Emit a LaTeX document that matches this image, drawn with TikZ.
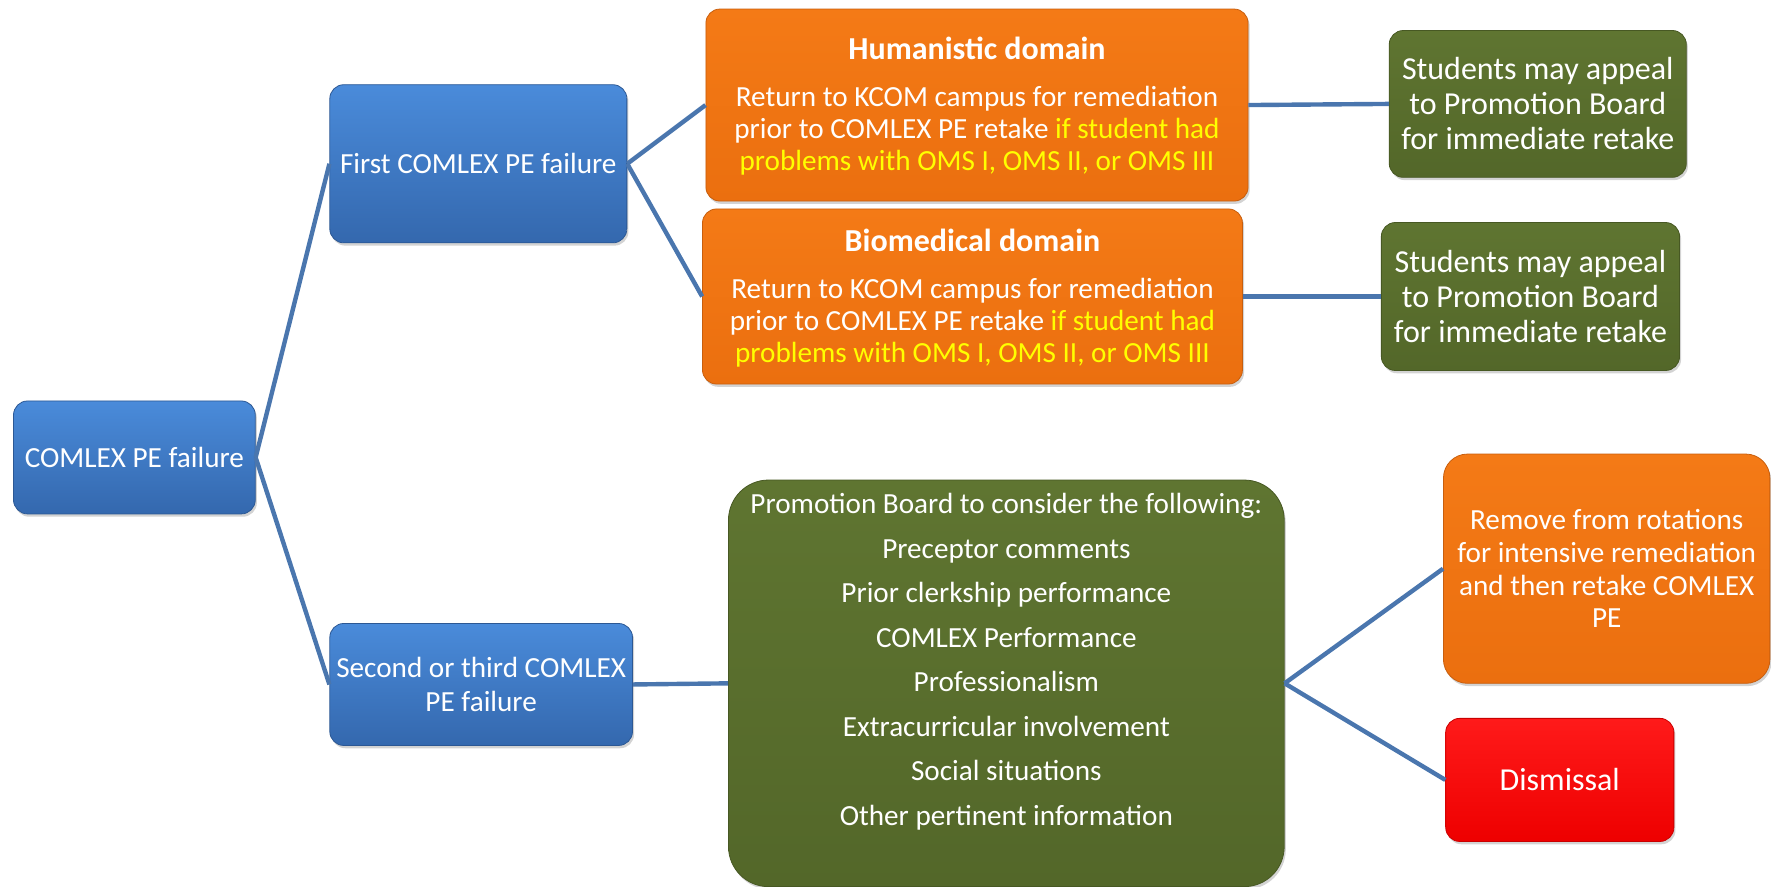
\documentclass[tikz,border=0pt]{standalone}
\usepackage{fontspec}
\setmainfont{Carlito}
\usetikzlibrary{fit,shadows}
\definecolor{bluetop}{HTML}{4A8BDA}
\definecolor{bluebot}{HTML}{3468AE}
\definecolor{orgtop}{HTML}{F47A16}
\definecolor{orgbot}{HTML}{EB6F0F}
\definecolor{grntop}{HTML}{5F7531}
\definecolor{grnbot}{HTML}{536729}
\definecolor{redtop}{HTML}{FF1A1A}
\definecolor{redbot}{HTML}{EE0000}
\definecolor{linkc}{HTML}{4A76AE}
\definecolor{hl}{HTML}{FFFF00}
\begin{document}
\begin{tikzpicture}[x=0.56475pt,y=-0.56475pt,
  box/.style={inner sep=0pt, rounded corners=7pt,
    drop shadow={opacity=0.35,shadow xshift=0.8pt,shadow yshift=-1.4pt}},
  bluebox/.style={box, top color=bluetop, bottom color=bluebot, draw=bluebot!85!black, line width=0.4pt},
  orangebox/.style={box, top color=orgtop, bottom color=orgbot, draw=orgbot!85!black, line width=0.4pt},
  greenbox/.style={box, top color=grntop, bottom color=grnbot, draw=grnbot!85!black, line width=0.4pt},
  redbox/.style={box, top color=redtop, bottom color=redbot, draw=redbot!85!black, line width=0.4pt},
  txt/.style={text=white, align=center, inner sep=0pt, font=\fontsize{14.6}{17}\selectfont},
  link/.style={draw=linkc, line width=2.2pt}]
\useasboundingbox (0,0) rectangle (1568,785.3);

% left column
\node[bluebox, fit={(12,355) (226,455)}] (a) {};
\node[txt] (at) at (a.center) {COMLEX PE failure};
\node[bluebox, fit={(292,75) (555,215)}] (b1) {};
\node[txt] (b1t) at (b1.center) {First COMLEX PE failure};
\node[bluebox, fit={(292,552) (560,660)}] (b2) {};
\node[txt] (b2t) at (b2.center) {Second or third COMLEX\\PE failure};

% orange domain boxes
\node[orangebox, fit={(625,8) (1105,178)}] (h) {};
\node[txt, font=\fontsize{14.6}{16.1}\selectfont] (ht) at (865,94)
  {{\fontsize{16}{16}\selectfont\bfseries Humanistic domain}\\[7.6pt]
   Return to KCOM campus for remediation\\
   prior to COMLEX PE retake \textcolor{hl}{if student had}\\
   \textcolor{hl}{problems with OMS I, OMS II, or OMS III}};
\node[orangebox, fit={(622,185) (1100,340)}] (bio) {};
\node[txt, font=\fontsize{14.6}{16.1}\selectfont] (biot) at (861,264)
  {{\fontsize{16}{16}\selectfont\bfseries Biomedical domain}\\[7.6pt]
   Return to KCOM campus for remediation\\
   prior to COMLEX PE retake \textcolor{hl}{if student had}\\
   \textcolor{hl}{problems with OMS I, OMS II, or OMS III}};

% appeal boxes
\node[greenbox, fit={(1230,27) (1493,157)}] (s1) {};
\node[txt, font=\fontsize{16}{17.5}\selectfont] (s1t) at (s1.center)
  {Students may appeal\\to Promotion Board\\for immediate retake};
\node[greenbox, fit={(1223,197) (1487,328)}] (s2) {};
\node[txt, font=\fontsize{16}{17.5}\selectfont] (s2t) at (s2.center)
  {Students may appeal\\to Promotion Board\\for immediate retake};

% promotion board
\node[greenbox, rounded corners=20pt, fit={(645,425) (1137,785)}] (p) {};
\node[txt, font=\fontsize{14.6}{22.25}\selectfont] (pt) at (891,586)
  {Promotion Board to consider the following:\\
   Preceptor comments\\
   Prior clerkship performance\\
   COMLEX Performance\\
   Professionalism\\
   Extracurricular involvement\\
   Social situations\\
   Other pertinent information};

% outcomes
\node[orangebox, rounded corners=12pt, fit={(1278,402) (1567,605)}] (r) {};
\node[txt, font=\fontsize{14.6}{16.3}\selectfont] (rt) at (r.center)
  {Remove from rotations\\for intensive remediation\\and then retake COMLEX\\PE};
\node[redbox, fit={(1280,636) (1482,745)}] (d) {};
\node[txt, font=\fontsize{16}{17}\selectfont] (dt) at (d.center) {Dismissal};

% connectors
\draw[link] (a.east) -- (b1.west);
\draw[link] (a.east) -- (b2.west);
\draw[link] (b1.east) -- (h.west);
\draw[link] (b1.east) -- (bio.west);
\draw[link] (h.east) -- (s1.west);
\draw[link] (bio.east) -- (s2.west);
\draw[link] (b2.east) -- (p.west);
\draw[link] (p.east) -- (r.west);
\draw[link] (p.east) -- (d.west);
\end{tikzpicture}
\end{document}
